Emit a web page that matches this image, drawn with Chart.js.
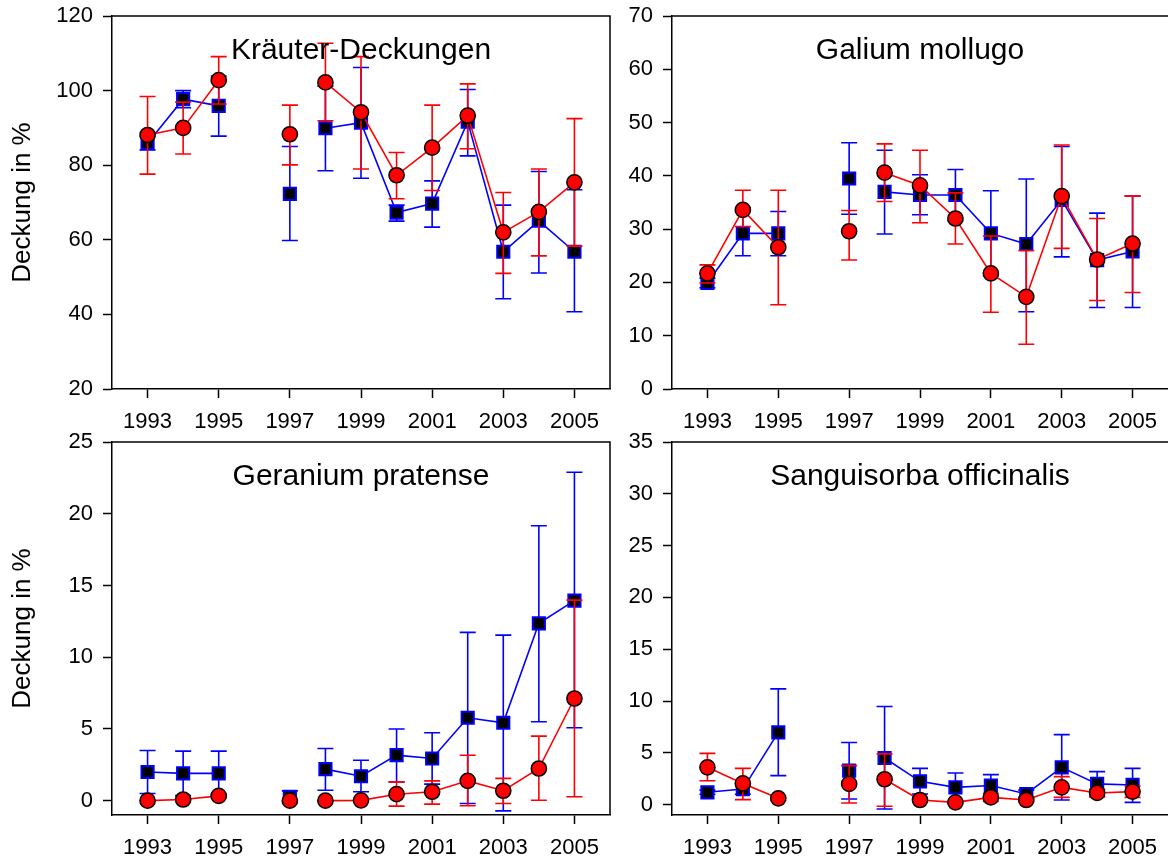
<!DOCTYPE html>
<html><head><meta charset="utf-8">
<script src="https://cdn.jsdelivr.net/npm/chart.js@4/dist/chart.umd.min.js"></script>
<style>
html,body{margin:0;padding:0;background:#fff;overflow:hidden;width:1168px;height:858px}
canvas{position:absolute;left:0;top:0}
</style></head><body>
<canvas id="c0" width="1168" height="858"></canvas>
<canvas id="c1" width="1168" height="858"></canvas>
<canvas id="c2" width="1168" height="858"></canvas>
<canvas id="c3" width="1168" height="858"></canvas>
<script>
// ---------- DATA ----------
const years = [1993,1994,1995,1996,1997,1998,1999,2000,2001,2002,2003,2004,2005];
const xTickYears = [1993,1995,1997,1999,2001,2003,2005];
const lineBreakAfter = [1997];
const panelTitles = ["Kräuter-Deckungen","Galium mollugo","Geranium pratense","Sanguisorba officinalis"];
const yAxisTitle = "Deckung in %";

const yTicks1 = [20,40,60,80,100,120];
const yTicks2 = [0,10,20,30,40,50,60,70];
const yTicks3 = [0,5,10,15,20,25];
const yTicks4 = [0,5,10,15,20,25,30,35];

// Panel 1: Kräuter-Deckungen
const p1BlueMean = [85.9, 97.7, 95.9, null, 72.3, 89.9, 91.4, 67.3, 69.7, 91.7, 56.8, 65.1, 56.8];
const p1BlueLo   = [84.1, 95.4, 87.8, null, 59.8, 78.5, 76.5, 65.0, 63.4, 82.5, 44.2, 51.1, 40.7];
const p1BlueHi   = [87.7, 100.0, 103.9, null, 85.0, 101.2, 106.2, 69.3, 75.8, 100.3, 69.3, 78.3, 73.4];
const p1RedMean  = [88.1, 90.0, 102.8, null, 88.3, 102.2, 94.2, 77.3, 84.7, 93.3, 62.0, 67.5, 75.4];
const p1RedLo    = [77.6, 83.0, 96.4, null, 80.1, 91.9, 79.0, 71.0, 73.2, 84.4, 51.0, 55.7, 58.3];
const p1RedHi    = [98.4, 96.9, 109.1, null, 96.1, 112.7, 109.1, 83.4, 96.1, 101.8, 72.7, 79.0, 92.5];

// Panel 2: Galium mollugo
const p2BlueMean = [19.9, 29.2, 29.2, null, 39.5, 37.0, 36.4, 36.4, 29.2, 27.2, 35.5, 24.2, 25.8];
const p2BlueLo   = [19.0, 25.0, 25.0, null, 32.8, 29.1, 32.7, 31.6, 21.2, 14.5, 24.8, 15.3, 15.3];
const p2BlueHi   = [20.8, 33.3, 33.3, null, 46.2, 44.8, 40.2, 41.2, 37.2, 39.4, 45.5, 33.0, 36.2];
const p2RedMean  = [21.7, 33.6, 26.6, null, 29.6, 40.6, 38.2, 32.0, 21.7, 17.3, 36.2, 24.3, 27.3];
const p2RedLo    = [19.9, 30.5, 15.8, null, 24.2, 35.2, 31.2, 27.2, 14.4, 8.4, 26.4, 16.6, 18.1];
const p2RedHi    = [23.3, 37.3, 37.3, null, 33.5, 46.0, 44.8, 36.8, 28.7, 26.0, 45.8, 32.0, 36.2];

// Panel 3: Geranium pratense
const p3BlueMean = [2.0, 1.9, 1.9, null, 0.27, 2.2, 1.7, 3.17, 2.94, 5.78, 5.43, 12.36, 13.94];
const p3BlueLo   = [0.5, 0.35, 0.35, null, -0.14, 0.73, 0.62, 1.31, 1.15, -0.2, -0.71, 5.5, 5.08];
const p3BlueHi   = [3.5, 3.45, 3.45, null, 0.68, 3.64, 2.82, 4.99, 4.73, 11.73, 11.54, 19.16, 22.89];
const p3RedMean  = [0.0, 0.08, 0.33, null, 0.0, 0.0, 0.02, 0.45, 0.62, 1.38, 0.69, 2.24, 7.12];
const p3RedLo    = [0.0, 0.0, 0.2, null, 0.0, 0.0, 0.0, -0.38, -0.24, -0.36, -0.2, 0.03, 0.27];
const p3RedHi    = [0.0, 0.16, 0.46, null, 0.0, 0.0, 0.04, 1.31, 1.38, 3.17, 1.55, 4.5, 13.98];

// Panel 4: Sanguisorba officinalis
const p4BlueMean = [1.19, 1.5, 6.98, null, 3.28, 4.5, 2.25, 1.67, 1.84, 1.03, 3.6, 2.0, 1.9];
const p4BlueLo   = [1.0, 1.0, 2.8, null, 0.54, -0.42, 1.03, 0.3, 0.8, 0.7, 0.45, 0.8, 0.22];
const p4BlueHi   = [1.4, 2.0, 11.17, null, 6.0, 9.47, 3.5, 3.06, 2.9, 1.4, 6.76, 3.19, 3.5];
const p4RedMean  = [3.6, 2.05, 0.61, null, 2.0, 2.45, 0.45, 0.22, 0.7, 0.45, 1.67, 1.13, 1.26];
const p4RedLo    = [2.3, 0.48, 0.4, null, 0.16, -0.16, 0.3, 0.1, 0.3, 0.3, 0.7, 0.75, 0.7];
const p4RedHi    = [4.95, 3.5, 0.8, null, 3.77, 4.9, 0.6, 0.35, 1.1, 0.6, 2.7, 1.5, 1.77];

// ---------- STYLE / LAYOUT ----------
const FONT = "'Liberation Sans', Arial, Helvetica, sans-serif";
Chart.defaults.font.family = FONT;
Chart.defaults.color = '#000';
const BLUE = '#0000ff', RED = '#ff0000';

const panels = [
  {title: panelTitles[0], yMin: 20, yMax: 120, yTicks: yTicks1, yTitle: true,  pad: {left: 0,   top: 16,  right: 558, bottom: 424}, yW: 112, xH: 45, rightBorder: true,
   blue: [p1BlueMean, p1BlueLo, p1BlueHi], red: [p1RedMean, p1RedLo, p1RedHi]},
  {title: panelTitles[1], yMin: 0, yMax: 70, yTicks: yTicks2, yTitle: false, pad: {left: 620, top: 16,  right: 0,   bottom: 424}, yW: 52,  xH: 45, rightBorder: false,
   blue: [p2BlueMean, p2BlueLo, p2BlueHi], red: [p2RedMean, p2RedLo, p2RedHi]},
  {title: panelTitles[2], yMin: -1, yMax: 25, yTicks: yTicks3, yTitle: true,  pad: {left: 0,   top: 442, right: 558, bottom: 0},   yW: 112, xH: 43, rightBorder: true,
   blue: [p3BlueMean, p3BlueLo, p3BlueHi], red: [p3RedMean, p3RedLo, p3RedHi]},
  {title: panelTitles[3], yMin: -1, yMax: 35, yTicks: yTicks4, yTitle: false, pad: {left: 620, top: 442, right: 0,   bottom: 0},   yW: 52,  xH: 43, rightBorder: false,
   blue: [p4BlueMean, p4BlueLo, p4BlueHi], red: [p4RedMean, p4RedLo, p4RedHi]}
];

const errorBarPlugin = {
  id: 'errorBars',
  beforeDatasetDraw(chart, args) {
    const ds = chart.data.datasets[args.index];
    if (!ds.errLo) return;
    const ys = chart.scales.y, ctx = chart.ctx;
    ctx.save();
    ctx.strokeStyle = ds.borderColor;
    ctx.lineWidth = 1.6;
    args.meta.data.forEach((pt, i) => {
      const lo = ds.errLo[i], hi = ds.errHi[i];
      if (lo == null || hi == null || ds.data[i].y == null) return;
      const x = pt.x;
      const y1 = ys.getPixelForValue(lo), y2 = ys.getPixelForValue(hi);
      ctx.beginPath();
      ctx.moveTo(x, y1); ctx.lineTo(x, y2);
      ctx.moveTo(x - 8, y1); ctx.lineTo(x + 8, y1);
      ctx.moveTo(x - 8, y2); ctx.lineTo(x + 8, y2);
      ctx.stroke();
    });
    ctx.restore();
  }
};

const framePlugin = {
  id: 'frame',
  afterDraw(chart, args, opts) {
    const {ctx, chartArea: a} = chart;
    ctx.save();
    ctx.strokeStyle = '#000';
    ctx.lineWidth = 1.5;
    ctx.beginPath();
    ctx.moveTo(a.left, a.top); ctx.lineTo(a.right, a.top);
    if (opts.rightBorder) { ctx.lineTo(a.right, a.bottom); }
    ctx.stroke();
    ctx.fillStyle = '#000';
    ctx.font = '30px ' + FONT;
    ctx.textAlign = 'center';
    ctx.textBaseline = 'alphabetic';
    ctx.fillText(opts.title, (a.left + a.right) / 2, a.top + 43);
    ctx.restore();
  }
};

function mkData(arr) {
  return years.map((yr, i) => ({x: yr, y: arr[i]}));
}

function segColor(color) {
  return ctx => lineBreakAfter.includes(ctx.p0.parsed.x) ? 'rgba(0,0,0,0)' : color;
}

function zeroPad(s) { s.paddingTop = 0; s.paddingBottom = 0; s.paddingLeft = 0; s.paddingRight = 0; }

panels.forEach((p, k) => {
  new Chart(document.getElementById('c' + k), {
    type: 'line',
    data: {
      datasets: [
        {
          label: 'blue', order: 1,
          data: mkData(p.blue[0]), errLo: p.blue[1], errHi: p.blue[2],
          borderColor: BLUE, borderWidth: 1.6,
          segment: {borderColor: segColor(BLUE)},
          pointStyle: 'rect', pointRadius: 8.6, pointBackgroundColor: '#000',
          pointBorderColor: BLUE, pointBorderWidth: 2,
          spanGaps: false, tension: 0, fill: false
        },
        {
          label: 'red', order: 0,
          data: mkData(p.red[0]), errLo: p.red[1], errHi: p.red[2],
          borderColor: RED, borderWidth: 1.6,
          segment: {borderColor: segColor(RED)},
          pointStyle: 'circle', pointRadius: 7.6, pointBackgroundColor: RED,
          pointBorderColor: '#000', pointBorderWidth: 1.5,
          spanGaps: false, tension: 0, fill: false
        }
      ]
    },
    options: {
      responsive: false, animation: false, devicePixelRatio: 1,
      layout: {padding: p.pad, autoPadding: false},
      clip: false,
      plugins: {legend: {display: false}, tooltip: {enabled: false}, title: {display: false},
                frame: {title: p.title, rightBorder: p.rightBorder}},
      scales: {
        x: {
          type: 'linear', min: 1992, max: 2006,
          afterBuildTicks: s => { s.ticks = xTickYears.map(v => ({value: v})); },
          afterFit: s => { s.height = p.xH; zeroPad(s); },
          ticks: {callback: v => String(v), font: {size: 22}, padding: 11, maxRotation: 0, autoSkip: false, color: '#000'},
          grid: {drawOnChartArea: false, drawTicks: true, tickLength: 9, tickWidth: 1.5, tickColor: '#000'},
          border: {display: true, color: '#000', width: 1.5}
        },
        y: {
          type: 'linear', min: p.yMin, max: p.yMax,
          afterBuildTicks: s => { s.ticks = p.yTicks.map(v => ({value: v})); },
          afterFit: s => { s.width = p.yW; zeroPad(s); },
          ticks: {callback: v => String(v), font: {size: 22}, padding: 10, color: '#000'},
          grid: {drawOnChartArea: false, drawTicks: true, tickLength: 9, tickWidth: 1.5, tickColor: '#000'},
          border: {display: true, color: '#000', width: 1.5},
          title: {display: p.yTitle, text: yAxisTitle, font: {size: 26}, color: '#000', padding: {top: 7, bottom: 0}}
        }
      }
    },
    plugins: [errorBarPlugin, framePlugin]
  });
});
</script>
</body></html>
